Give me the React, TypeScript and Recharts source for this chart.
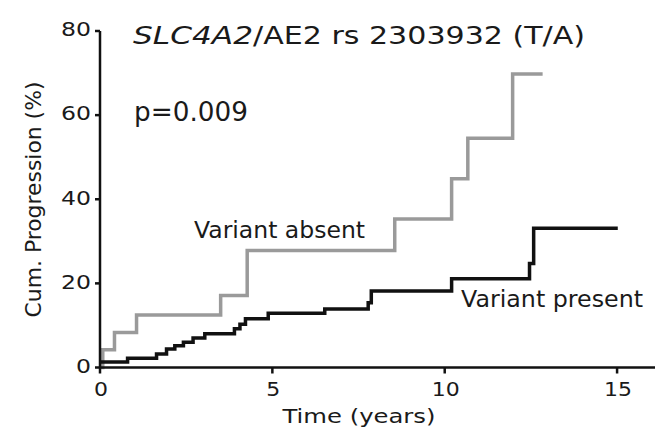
import React from 'react';
import { LineChart, Line, XAxis, YAxis } from 'recharts';

const absentTimes = [0, 0.08, 0.42, 1.06, 3.5, 4.27, 8.55, 10.2, 10.67, 11.97, 12.84];
const absentValues = [0, 4.2, 8.3, 12.5, 17.1, 27.8, 35.3, 44.9, 54.5, 69.8, 69.8];
const presentTimes = [0, 0.8, 1.64, 1.93, 2.17, 2.42, 2.7, 3.04, 3.9, 4.06, 4.22, 4.88, 6.52, 7.78, 7.87, 10.2, 12.46, 12.58, 15.02];
const presentValues = [1.3, 2.2, 3.2, 4.4, 5.2, 6.0, 7.0, 8.0, 9.2, 10.3, 11.6, 12.9, 13.9, 15.4, 18.2, 21.1, 24.7, 33.1, 33.1];
const xTicks = [0, 5, 10, 15];
const yTicks = [0, 20, 40, 60, 80];

const absentData = absentTimes.map((t, i) => ({ t, v: absentValues[i] }));
const presentData = presentTimes.map((t, i) => ({ t, v: presentValues[i] }));

const FONT = 'DejaVu Sans, Verdana, sans-serif';
const TXT = '#1a1a1a';

const YTick = (props: any) => {
  const { x, y, payload } = props;
  const s = String(payload.value);
  return (
    <text x={x} y={y} dy={5.3} textAnchor="end" fontSize={20} fontFamily={FONT} fill={TXT}
      textLength={s.length * 15} lengthAdjust="spacingAndGlyphs">{s}</text>
  );
};

const XTick = (props: any) => {
  const { x, payload } = props;
  const s = String(payload.value);
  return (
    <text x={x + 1} y={396} textAnchor="middle" fontSize={20} fontFamily={FONT} fill={TXT}
      textLength={s.length * 14} lengthAdjust="spacingAndGlyphs">{s}</text>
  );
};

export default function App() {
  return (
    <div style={{ position: 'absolute', left: 0, top: 0, width: 663, height: 429, background: '#fff' }}>
      <LineChart width={663} height={429} margin={{ top: 31, right: 8, bottom: 31.5, left: 0 }}>
        <XAxis dataKey="t" type="number" domain={[0, 16.1]} ticks={xTicks} height={30}
          allowDataOverflow tick={<XTick />} tickSize={6} tickMargin={2}
          axisLine={{ stroke: '#111', strokeWidth: 2.5 }} tickLine={{ stroke: '#111', strokeWidth: 2.5 }} />
        <YAxis type="number" domain={[0, 80]} ticks={yTicks} width={100}
          tick={<YTick />} tickSize={5} tickMargin={4}
          axisLine={{ stroke: '#111', strokeWidth: 2.5 }} tickLine={{ stroke: '#111', strokeWidth: 2.5 }} />
        <Line data={absentData} dataKey="v" type="stepAfter" stroke="#9a9a9a" strokeWidth={3.5}
          dot={false} isAnimationActive={false} />
        <Line data={presentData} dataKey="v" type="stepAfter" stroke="#111" strokeWidth={3.5}
          dot={false} isAnimationActive={false} />
      </LineChart>
      <svg width={663} height={429} style={{ position: 'absolute', left: 0, top: 0, pointerEvents: 'none' }}>
        <g fontFamily={FONT} fill={TXT}>
          <text x={133} y={44} fontSize={25} fontStyle="italic" textLength={120} lengthAdjust="spacingAndGlyphs">SLC4A2</text>
          <text x={253} y={44} fontSize={25} textLength={332} lengthAdjust="spacingAndGlyphs">/AE2 rs 2303932 (T/A)</text>
          <text x={134} y={121} fontSize={26} textLength={114} lengthAdjust="spacingAndGlyphs">p=0.009</text>
          <text x={194} y={238} fontSize={23} textLength={171} lengthAdjust="spacingAndGlyphs">Variant absent</text>
          <text x={461} y={307} fontSize={23} textLength={182} lengthAdjust="spacingAndGlyphs">Variant present</text>
          <text x={359} y={423} fontSize={19.5} textAnchor="middle" textLength={153} lengthAdjust="spacingAndGlyphs">Time (years)</text>
          <text transform="translate(41,199.5) rotate(-90)" x={0} y={0} fontSize={22} textAnchor="middle"
            textLength={236} lengthAdjust="spacingAndGlyphs">Cum. Progression (%)</text>
        </g>
      </svg>
    </div>
  );
}
